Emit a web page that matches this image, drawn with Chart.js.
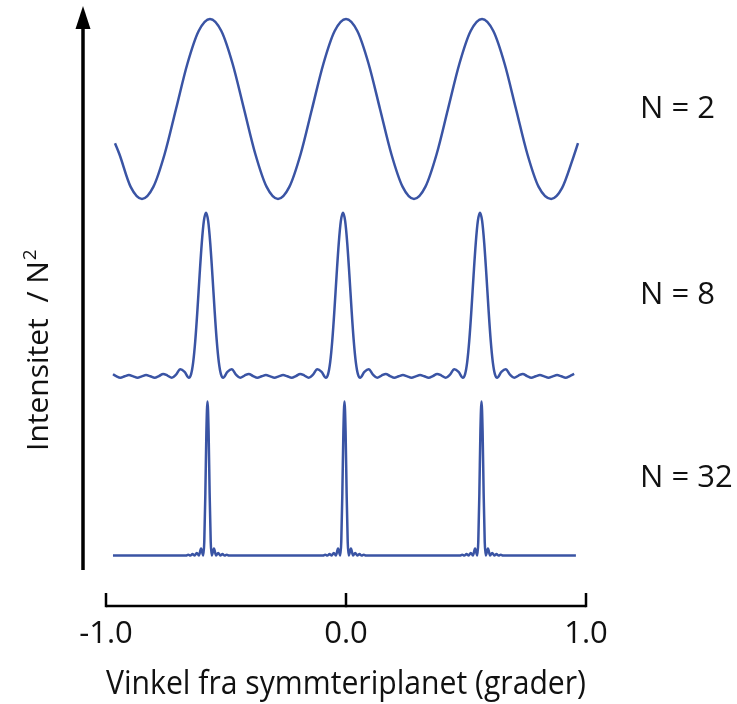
<!DOCTYPE html>
<html>
<head>
<meta charset="utf-8">
<script src="https://cdn.jsdelivr.net/npm/chart.js@4.4.1/dist/chart.umd.min.js"></script>
<style>
  body { margin: 0; background: #fff; }
  canvas { display: block; }
</style>
</head>
<body>
<canvas id="gratingChart" width="737" height="704"></canvas>
<script>
// vinkel (grader) and normalised intensity I/N^2 for each N
var angle2 = [-0.9625, -0.9444, -0.8972, -0.85, -0.8028, -0.7556, -0.7083, -0.6611, -0.6139, -0.5667, -0.5194, -0.4722, -0.425, -0.3778, -0.3306, -0.2833, -0.2361, -0.1889, -0.1417, -0.0944, -0.0472, 0,
  0.0472, 0.0944, 0.1417, 0.1889, 0.2361, 0.2833, 0.3306, 0.3778, 0.425, 0.4722, 0.5194, 0.5667, 0.6139, 0.6611, 0.7083, 0.7556, 0.8028, 0.855, 0.9, 0.9444, 0.9667];
var int2 = [0.31, 0.25, 0.067, 0, 0.067, 0.25, 0.5, 0.75, 0.933, 1, 0.933, 0.75, 0.5, 0.25, 0.067, 0, 0.067, 0.25, 0.5, 0.75, 0.933, 1,
  0.933, 0.75, 0.5, 0.25, 0.067, 0, 0.067, 0.25, 0.5, 0.75, 0.933, 1, 0.933, 0.75, 0.5, 0.25, 0.067, 0, 0.06, 0.22, 0.31];

var angle8 = [-0.971, -0.9579, -0.9400, -0.9222, -0.9044, -0.8865, -0.8687,
  -0.8509, -0.8330, -0.8152, -0.7974, -0.7795, -0.7617, -0.7438, -0.7260, -0.7082, -0.6903, -0.6725,
  -0.6547, -0.6457, -0.6368, -0.6279, -0.6190, -0.6101, -0.6011, -0.5922, -0.5833, -0.5744, -0.5655, -0.5565, -0.5476, -0.5387, -0.5298, -0.5209, -0.5119,
  -0.4941, -0.4763, -0.4584, -0.4406, -0.4228, -0.4049, -0.3871, -0.3692, -0.3514, -0.3336, -0.3157, -0.2979,
  -0.2801, -0.2622, -0.2444, -0.2266, -0.2087, -0.1909, -0.1730, -0.1552, -0.1374, -0.1195, -0.1017,
  -0.0839, -0.0749, -0.0660, -0.0571, -0.0482, -0.0393, -0.0303, -0.0214, -0.0125, -0.0036, 0.0053, 0.0143, 0.0232, 0.0321, 0.0410, 0.0499, 0.0589,
  0.0767, 0.0945, 0.1124, 0.1302, 0.1480, 0.1659, 0.1837, 0.2016, 0.2194, 0.2372, 0.2551, 0.2729,
  0.2907, 0.3086, 0.3264, 0.3442, 0.3621, 0.3799, 0.3978, 0.4156, 0.4334, 0.4513, 0.4691,
  0.4869, 0.4959, 0.5048, 0.5137, 0.5226, 0.5315, 0.5405, 0.5494, 0.5583, 0.5672, 0.5761, 0.5851, 0.5940, 0.6029, 0.6118, 0.6207, 0.6297,
  0.6475, 0.6653, 0.6832, 0.7010, 0.7188, 0.7367, 0.7545, 0.7724, 0.7902, 0.8080, 0.8259, 0.8437,
  0.8615, 0.8794, 0.8972, 0.9150, 0.9329, 0.9507];
var int8 = [0.021, 0.010, 0, 0.0085, 0.016, 0.008, 0,
  0.008, 0.016, 0.0085, 0, 0.010, 0.023, 0.013, 0, 0.019, 0.051, 0.035,
  0, 0.020, 0.093, 0.226, 0.411, 0.619, 0.813, 0.950, 1, 0.950, 0.813, 0.619, 0.411, 0.226, 0.093, 0.020, 0,
  0.035, 0.051, 0.019, 0, 0.013, 0.023, 0.010, 0, 0.0085, 0.016, 0.008, 0,
  0.008, 0.016, 0.0085, 0, 0.010, 0.023, 0.013, 0, 0.019, 0.051, 0.035,
  0, 0.020, 0.093, 0.226, 0.411, 0.619, 0.813, 0.950, 1, 0.950, 0.813, 0.619, 0.411, 0.226, 0.093, 0.020, 0,
  0.035, 0.051, 0.019, 0, 0.013, 0.023, 0.010, 0, 0.0085, 0.016, 0.008, 0,
  0.008, 0.016, 0.0085, 0, 0.010, 0.023, 0.013, 0, 0.019, 0.051, 0.035,
  0, 0.020, 0.093, 0.226, 0.411, 0.619, 0.813, 0.950, 1, 0.950, 0.813, 0.619, 0.411, 0.226, 0.093, 0.020, 0,
  0.035, 0.051, 0.019, 0, 0.013, 0.023, 0.010, 0, 0.0085, 0.016, 0.008, 0,
  0.008, 0.016, 0.0085, 0, 0.010, 0.023];

var angle32 = [-0.971,
  -0.6663, -0.6574, -0.6485, -0.6395, -0.6306, -0.6217, -0.6128, -0.6039, -0.5949, -0.5905, -0.5860, -0.5816, -0.5771, -0.5726, -0.5682, -0.5637, -0.5593, -0.5503, -0.5414, -0.5325, -0.5236, -0.5147, -0.5057, -0.4968, -0.4879,
  -0.0955, -0.0866, -0.0777, -0.0687, -0.0598, -0.0509, -0.0420, -0.0331, -0.0241, -0.0197, -0.0152, -0.0108, -0.0063, -0.0018, 0.0026, 0.0071, 0.0115, 0.0205, 0.0294, 0.0383, 0.0472, 0.0561, 0.0651, 0.0740, 0.0829,
  0.4754, 0.4843, 0.4932, 0.5022, 0.5111, 0.5200, 0.5289, 0.5378, 0.5468, 0.5512, 0.5557, 0.5601, 0.5646, 0.5691, 0.5735, 0.5780, 0.5824, 0.5914, 0.6003, 0.6092, 0.6181, 0.6270, 0.6360, 0.6449, 0.6538,
  0.958];
var int32 = [0,
  0, 0.005, 0, 0.009, 0, 0.017, 0, 0.045, 0, 0.090, 0.406, 0.811, 1, 0.811, 0.406, 0.090, 0, 0.045, 0, 0.017, 0, 0.009, 0, 0.005, 0,
  0, 0.005, 0, 0.009, 0, 0.017, 0, 0.045, 0, 0.090, 0.406, 0.811, 1, 0.811, 0.406, 0.090, 0, 0.045, 0, 0.017, 0, 0.009, 0, 0.005, 0,
  0, 0.005, 0, 0.009, 0, 0.017, 0, 0.045, 0, 0.090, 0.406, 0.811, 1, 0.811, 0.406, 0.090, 0, 0.045, 0, 0.017, 0, 0.009, 0, 0.005, 0,
  0];

var xTicks = [-1, 0, 1];
var seriesLabels = ["N = 2", "N = 8", "N = 32"];
var xTitle = "Vinkel fra symmteriplanet (grader)";
var yTitle = "Intensitet  / N";

var lineColor = "#3a54a4";
var fontFamily = "'Open Sans', 'Noto Sans', sans-serif";

function toPoints(xs, ys){
  return xs.map(function(x, i){ return {x: x, y: ys[i]}; });
}

function makeSet(label, xs, ys, axis){
  return {
    label: label,
    data: toPoints(xs, ys),
    yAxisID: axis,
    borderColor: lineColor,
    borderWidth: 2.5,
    pointRadius: 0,
    fill: false,
    cubicInterpolationMode: "monotone",
    clip: false
  };
}

// arrow, bracket and text labels
var decorations = {
  id: "decorations",
  afterDraw: function(chart){
    var ctx = chart.ctx;
    var area = chart.chartArea;
    var xs = chart.scales.x;
    ctx.save();

    // vertical arrow
    var ax = area.left - 23;
    ctx.strokeStyle = "#000";
    ctx.fillStyle = "#000";
    ctx.lineWidth = 3.5;
    ctx.beginPath();
    ctx.moveTo(ax, 570);
    ctx.lineTo(ax, 26);
    ctx.stroke();
    ctx.beginPath();
    ctx.moveTo(ax, 6);
    ctx.lineTo(ax - 7.5, 29);
    ctx.lineTo(ax + 7.5, 29);
    ctx.closePath();
    ctx.fill();

    // bottom bracket
    var by = area.bottom;
    var x0 = xs.getPixelForValue(xTicks[0]);
    var x1 = xs.getPixelForValue(xTicks[xTicks.length - 1]);
    ctx.lineWidth = 2.5;
    ctx.beginPath();
    ctx.moveTo(x0, by);
    ctx.lineTo(x1, by);
    ctx.stroke();
    xTicks.forEach(function(v){
      var px = xs.getPixelForValue(v);
      ctx.beginPath();
      ctx.moveTo(px, by + 1.2);
      ctx.lineTo(px, by - 13);
      ctx.stroke();
    });

    // N labels, centred on each curve
    ctx.fillStyle = "#111";
    ctx.font = "31px " + fontFamily;
    ctx.textAlign = "left";
    ctx.textBaseline = "middle";
    ["y2", "y8", "y32"].forEach(function(id, i){
      var py = chart.scales[id].getPixelForValue(0.5);
      ctx.fillText(seriesLabels[i], area.right + 54, py);
    });

    // rotated y title with superscript
    ctx.font = "30px " + fontFamily;
    ctx.translate(48, 451);
    ctx.rotate(-Math.PI / 2);
    ctx.textBaseline = "alphabetic";
    ctx.fillText(yTitle, 0, 0);
    var w = ctx.measureText(yTitle).width;
    ctx.font = "19px " + fontFamily;
    ctx.fillText("2", w + 1, -12);
    ctx.restore();
  }
};

function createChart(){
  var ctx = document.getElementById("gratingChart").getContext("2d");
  Chart.defaults.font.family = fontFamily;
  new Chart(ctx, {
    type: "line",
    data: {
      datasets: [
        makeSet("N = 2", angle2, int2, "y2"),
        makeSet("N = 8", angle8, int8, "y8"),
        makeSet("N = 32", angle32, int32, "y32")
      ]
    },
    options: {
      responsive: false,
      animation: false,
      layout: {padding: {left: 106, right: 151, top: 8, bottom: 0}},
      plugins: {legend: {display: false}, tooltip: {enabled: false}},
      scales: {
        x: {
          type: "linear",
          min: -1,
          max: 1,
          afterBuildTicks: function(scale){
            scale.ticks = xTicks.map(function(v){ return {value: v}; });
          },
          afterFit: function(scale){
            scale.height = 98;
          },
          grid: {display: false, drawTicks: false},
          border: {display: false},
          ticks: {
            autoSkip: false,
            maxRotation: 0,
            padding: 10,
            color: "#111",
            font: {size: 31},
            callback: function(v){ return Number(v).toFixed(1); }
          },
          title: {
            display: true,
            text: xTitle,
            color: "#111",
            font: {size: 32},
            padding: {top: 0, bottom: 0}
          }
        },
        y2: {display: false, min: -2.2611, max: 1.0610},
        y8: {display: false, min: -1.3836, max: 2.2406},
        y32: {display: false, min: -0.3279, max: 3.5553}
      }
    },
    plugins: [decorations]
  });
}

createChart();
</script>
</body>
</html>
